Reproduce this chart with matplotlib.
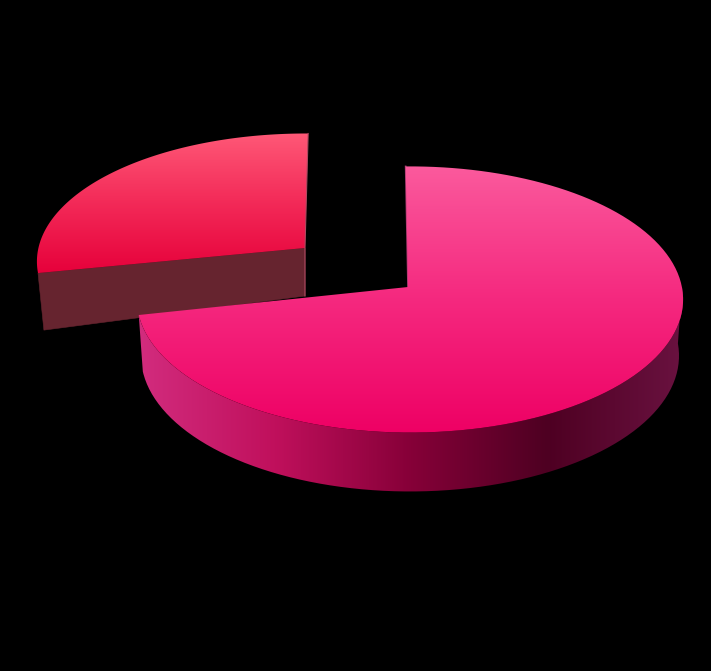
import numpy as np
import matplotlib
matplotlib.use('Agg')
import matplotlib.pyplot as plt
from matplotlib.colors import LinearSegmentedColormap
from matplotlib.patches import PathPatch, Polygon
from matplotlib.path import Path

# slice shares in percent
shares = [72, 28]
start_angles = [91, 89.5]

big_top_colors = ['#fb5c9e', '#f5297f', '#ee0064']
big_wall_colors = ['#d22c7e', '#c0105c', '#860038', '#4e0022', '#6a1240']
small_top_colors = ['#ff5a78', '#f32a58', '#e6003a']
small_wall_color = '#66242f'

PERSP = 0.09


def rim(theta, cx, cy, rx, ry):
    c, s = np.cos(np.radians(theta)), np.sin(np.radians(theta))
    d = 1 + PERSP * s
    return np.column_stack([cx + rx * c / d, cy - ry * s / d])


def gradient(ax, path, colors, extent, horizontal=False):
    cmap = LinearSegmentedColormap.from_list('g', colors)
    vals = np.linspace(0, 1, 256)
    vals = vals[None, :] if horizontal else vals[:, None]
    im = ax.imshow(vals, cmap=cmap, extent=extent, aspect='auto',
                   interpolation='bilinear', zorder=ax.zo)
    patch = PathPatch(path, transform=ax.transData, fc='none', ec='none')
    ax.add_patch(patch)
    im.set_clip_path(patch)
    ax.zo += 1


fig = plt.figure(figsize=(7.11, 6.71), dpi=100, facecolor='black')
ax = fig.add_axes([0, 0, 1, 1])
ax.set_axis_off()
ax.zo = 1

# small slice, pulled out to the upper left
apex = np.array([[305, 248]])
sweep = shares[1] / sum(shares) * 360
angs = np.linspace(start_angles[1], start_angles[1] + sweep, 120)
pts = rim(angs, 306, 250, 268, 127)


def drop_small(p):
    return np.column_stack([306 + (p[:, 0] - 306) * 0.978,
                            p[:, 1] + 48 + (p[:, 1] - 248) * 0.36])


wall = np.vstack([pts[-1:], apex, drop_small(apex), drop_small(pts[-1:])])
ax.add_patch(Polygon(wall, fc=small_wall_color, ec=small_wall_color, lw=0.4, zorder=1))
ax.zo = 2
outline = np.vstack([apex, pts, apex])
gradient(ax, Path(outline), small_top_colors, (30, 320, 275, 130))
ax.plot([pts[0, 0], apex[0, 0], apex[0, 0]], [pts[0, 1], apex[0, 1], apex[0, 1] + 48],
        color='#b04a62', lw=0.8, zorder=ax.zo)
ax.zo += 1

# big slice
apex = np.array([[408, 287]])
sweep = shares[0] / sum(shares) * 360
end = start_angles[0] - sweep + 360
angs = np.linspace(start_angles[0] + 360, end, 240)
pts = rim(angs, 410, 287.5, 272, 132)


def drop_big(p):
    return np.column_stack([410 + (p[:, 0] - 410) * 0.985,
                            p[:, 1] + 56 + (p[:, 1] - 287) * 0.02])


front = rim(np.linspace(end, 360, 160), 410, 287.5, 272, 132)
wall = np.vstack([front, drop_big(front)[::-1]])
gradient(ax, Path(np.vstack([wall, wall[:1]])), big_wall_colors, (138, 684, 500, 280),
         horizontal=True)
ax.plot([pts[0, 0], apex[0, 0]], [pts[0, 1], apex[0, 1]], color='#a83a70', lw=1.2,
        zorder=ax.zo)
ax.zo += 1
outline = np.vstack([apex, pts, apex])
gradient(ax, Path(outline), big_top_colors, (130, 690, 435, 160))

ax.set_xlim(0, 711)
ax.set_ylim(671, 0)
fig.savefig('out.png', dpi=100, facecolor='black')
